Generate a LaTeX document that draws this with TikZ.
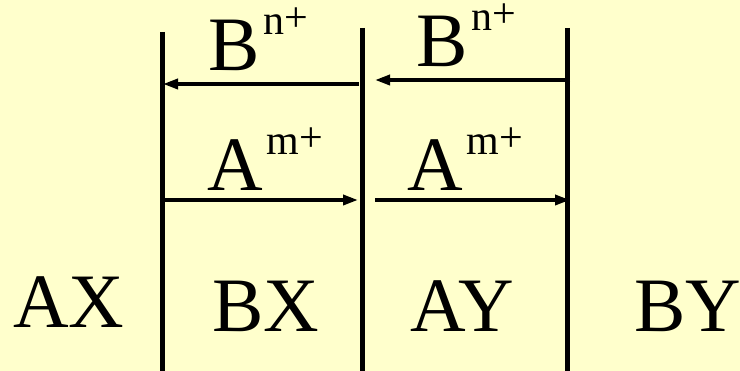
\documentclass[tikz,border=0pt]{standalone}
\usepackage{fontspec}
\setmainfont{Liberation Serif}
\usetikzlibrary{arrows.meta}
\definecolor{bgyellow}{RGB}{255,255,204}
\tikzset{
  wall/.style={line width=5pt},
  flow/.style={line width=3.5pt,-{Triangle[length=15pt,width=10pt]}},
  lbl/.style={anchor=base west,inner sep=0pt,font=\fontsize{77}{77}\selectfont},
}
\newcommand{\ionsup}[1]{\smash{\raisebox{36pt}{\fontsize{42}{42}\selectfont #1\raisebox{3pt}{+}}}}
\begin{document}
\begin{tikzpicture}[x=1pt,y=-1pt]
\fill[bgyellow] (0,0) rectangle (740,371);
\useasboundingbox (0,0) rectangle (740,371);
% walls
\coordinate (w1t) at (162.5,32); \coordinate (w1b) at (162.5,373);
\coordinate (w2t) at (362,28);   \coordinate (w2b) at (362,373);
\coordinate (w3t) at (567,28);   \coordinate (w3b) at (567,373);
\draw[wall] (w1t) -- (w1b);
\draw[wall] (w2t) -- (w2b);
\draw[wall] (w3t) -- (w3b);
% arrow end points
\coordinate (a1s) at (359,84);  \coordinate (a1e) at (163,84);
\coordinate (a2s) at (570,80);  \coordinate (a2e) at (375,80);
\coordinate (a3s) at (163,200); \coordinate (a3e) at (358,200);
\coordinate (a4s) at (375,200); \coordinate (a4e) at (570,200);
\draw[flow] (a1s) -- (a1e);
\draw[flow] (a2s) -- (a2e);
\draw[flow] (a3s) -- (a3e);
\draw[flow] (a4s) -- (a4e);
% ion labels
\node[lbl] (b1) at (208,71) {B\kern4pt\ionsup{n}};
\node[lbl] (b2) at (416,67) {B\kern4pt\ionsup{n}};
\node[lbl] (m1) at (207,191) {A\kern4pt\ionsup{m}};
\node[lbl] (m2) at (407,191) {A\kern4pt\ionsup{m}};
% phase labels
\node[lbl] (ax) at (13,328) {AX};
\node[lbl] (bx) at (212,332) {BX};
\node[lbl] (ay) at (410,332) {AY};
\node[lbl] (by) at (634,332) {BY};
\end{tikzpicture}
\end{document}
